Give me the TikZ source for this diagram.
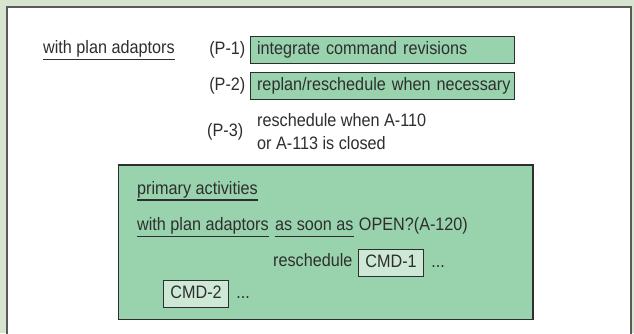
\documentclass[tikz,border=0pt]{standalone}
\usepackage{fontspec}
\setmainfont{Liberation Sans}[FakeStretch=0.9]
\definecolor{pagebg}{HTML}{D6E4D0}
\definecolor{framecol}{HTML}{5A5A5A}
\definecolor{actgreen}{HTML}{99D3AE}
\definecolor{cmdgreen}{HTML}{CDE8D5}
\definecolor{inkcol}{HTML}{2E2E2E}
\newcommand{\txtsize}{\fontsize{18}{23}\selectfont}
\tikzset{
  lbl/.style={anchor=base west, inner sep=0pt, text=inkcol, font=\txtsize},
  gbox/.style={draw=inkcol, line width=1.2pt, fill=actgreen, anchor=north west,
    minimum width=264pt, minimum height=27pt, text width=250pt, inner xsep=7pt,
    align=left, text height=12.9pt, text depth=3.8pt, text=inkcol, font=\txtsize},
  cmdbox/.style={draw=inkcol, line width=1.2pt, fill=cmdgreen, anchor=north west,
    minimum width=65pt, minimum height=27pt, inner xsep=0pt,
    text height=12.9pt, text depth=3.8pt, text=inkcol, font=\txtsize},
  uline/.style={draw=inkcol, line width=1.1pt}
}
\begin{document}
\begin{tikzpicture}[x=1pt,y=-1pt]
  % page background and white frame
  \fill[pagebg] (0,0) rectangle (634,333);
  \useasboundingbox (0,0) rectangle (634,333);
  \filldraw[fill=white, draw=framecol, line width=2pt] (7,340) -- (7,6.5) -- (630.5,6.5) -- (630.5,340);

  % plan adaptors header
  \node[lbl] (hdr) at (43,53.5) {with plan adaptors};
  \draw[uline] ([yshift=-6pt]hdr.base west) -- ([yshift=-6pt]hdr.base east);

  \node[gbox] (p1) at (249.5,35.7) {\mbox{integrate command revisions}};
  \node[gbox] (p2) at (249.5,71.7) {\mbox{replan/reschedule when necessary}};
  \node[lbl, anchor=base east] (p1l) at ([xshift=-4pt]p1.base west) {(P-1)};
  \node[lbl, anchor=base east] (p2l) at ([xshift=-4pt]p2.base west) {(P-2)};

  \node[lbl] (p3l) at (207,136) {(P-3)};
  \node[lbl] (p3a) at (257,126) {reschedule when A-110};
  \node[lbl] (p3b) at (257,149.3) {or A-113 is closed};

  % primary activities block
  \draw[draw=inkcol, line width=1.3pt, fill=actgreen] (118.3,165) rectangle (533,319.3);

  \node[lbl] (prim) at (137,194) {primary activities};
  \draw[uline] ([yshift=-6pt]prim.base west) -- ([yshift=-6pt]prim.base east);

  \node[lbl] (wpa) at (137,230.5) {with plan adaptors};
  \node[lbl] (asa) at (275,230.5) {as soon as};
  \node[lbl] (opn) at ([xshift=5pt]asa.base east) {OPEN?(A-120)};
  \draw[uline] ([yshift=-6pt]wpa.base west) -- ([yshift=-6pt]wpa.base east);
  \draw[uline] ([yshift=-6pt]asa.base west) -- ([yshift=-6pt]asa.base east);

  \node[lbl] (rsc) at (273,266.5) {reschedule};
  \node[cmdbox] (c1) at (358,249) {CMD-1};
  \node[lbl] (d1) at ([xshift=7pt]c1.base east) {...};

  \node[cmdbox] (c2) at (163,280) {CMD-2};
  \node[lbl] (d2) at ([xshift=7pt]c2.base east) {...};
\end{tikzpicture}
\end{document}
